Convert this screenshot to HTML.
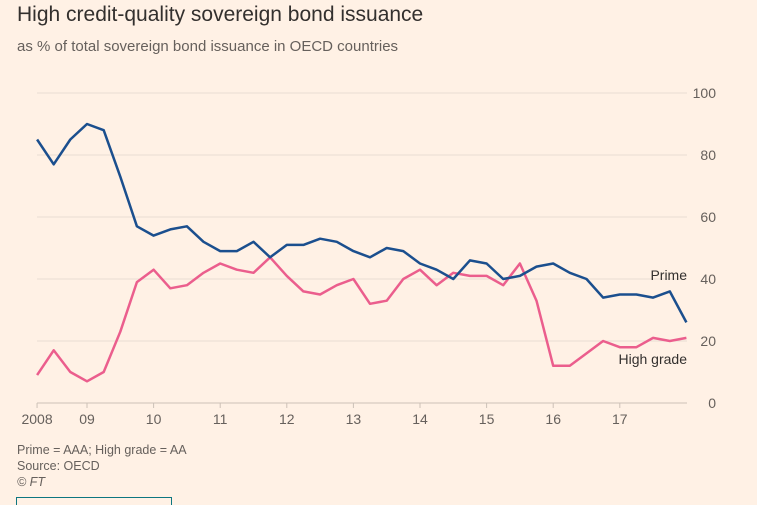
<!DOCTYPE html>
<html><head><meta charset="utf-8"><style>
body{margin:0;background:#fff1e5;font-family:"Liberation Sans",sans-serif;}
#wrap{position:relative;width:757px;height:505px;overflow:hidden;background:#fff1e5}
.t{position:absolute;white-space:nowrap}
</style></head><body>
<div id="wrap">
<div class="t" style="left:17px;top:3px;font-size:21px;color:#33302e">High credit-quality sovereign bond issuance</div>
<div class="t" style="left:17px;top:38px;font-size:15px;color:#66605c">as % of total sovereign bond issuance in OECD countries</div>
<svg id="chart" width="757" height="440" style="position:absolute;left:0;top:0"></svg>
<div class="t" style="left:17px;top:443px;font-size:12.5px;color:#66605c">Prime = AAA; High grade = AA</div>
<div class="t" style="left:17px;top:459px;font-size:12.5px;color:#66605c">Source: OECD</div>
<div class="t" style="left:17px;top:475px;font-size:12.5px;color:#66605c;font-style:italic">© FT</div>
<div style="position:absolute;left:16px;top:497px;width:154px;height:20px;border:1px solid #0d7680"></div>
</div>
<script>
const prime=[85,77,85,90,88,73,57,54,56,57,52,49,49,52,47,51,51,53,52,49,47,50,49,45,43,40,46,45,40,41,44,45,42,40,34,35,35,34,36,26];
const highGrade=[9,17,10,7,10,23,39,43,37,38,42,45,43,42,47,41,36,35,38,40,32,33,40,43,38,42,41,41,38,45,33,12,12,16,20,18,18,21,20,21];
const startYear=2008.25;
const yTicks=[0,20,40,60,80,100];
const xTickYears=[2008.25,2009,2010,2011,2012,2013,2014,2015,2016,2017];
const xTickLabels=["2008","09","10","11","12","13","14","15","16","17"];
const NS="http://www.w3.org/2000/svg";
const svg=document.getElementById('chart');
const x=t=>87+(t-2009)*66.6;
const y=v=>403-v*3.1;
function mk(tag,attrs){const e=document.createElementNS(NS,tag);for(const k in attrs)e.setAttribute(k,attrs[k]);svg.appendChild(e);return e;}
yTicks.forEach(v=>{
  if(v>0){const g=mk('line',{x1:37,x2:687,y1:y(v),y2:y(v),stroke:'#e9ddd3','stroke-width':1});
  
  }
  const t=mk('text',{x:716,y:y(v)+5,'text-anchor':'end','font-size':14,fill:'#66605c','font-family':'Liberation Sans, sans-serif'});
  t.textContent=v;
  
  
});
const ax=mk('line',{x1:37,x2:687,y1:403,y2:403,stroke:'#ccc1b7','stroke-width':1});


xTickYears.forEach((yr,i)=>{
  const tk=mk('line',{x1:x(yr),x2:x(yr),y1:403,y2:408,stroke:'#ccc1b7'});
  
  
  const t=mk('text',{x:x(yr),y:424,'text-anchor':'middle','font-size':14,fill:'#66605c','font-family':'Liberation Sans, sans-serif'});
  t.textContent=xTickLabels[i];
  
  
});
function line(data,color,name){
  const d=data.map((v,i)=>(i?'L':'M')+x(startYear+i*0.25).toFixed(1)+','+y(v).toFixed(1)).join('');
  const p=mk('path',{d:d,fill:'none',stroke:color,'stroke-width':2.5,'stroke-linejoin':'round'});
  
  
}
line(highGrade,'#eb5e8d','high-grade-line');
line(prime,'#1b4f8e','prime-line');
const l1=mk('text',{x:687,y:280,'text-anchor':'end','font-size':14,fill:'#33302e','font-family':'Liberation Sans, sans-serif'});
l1.textContent='Prime';


const l2=mk('text',{x:687,y:364,'text-anchor':'end','font-size':14,fill:'#33302e','font-family':'Liberation Sans, sans-serif'});
l2.textContent='High grade';


</script>
</body></html>
